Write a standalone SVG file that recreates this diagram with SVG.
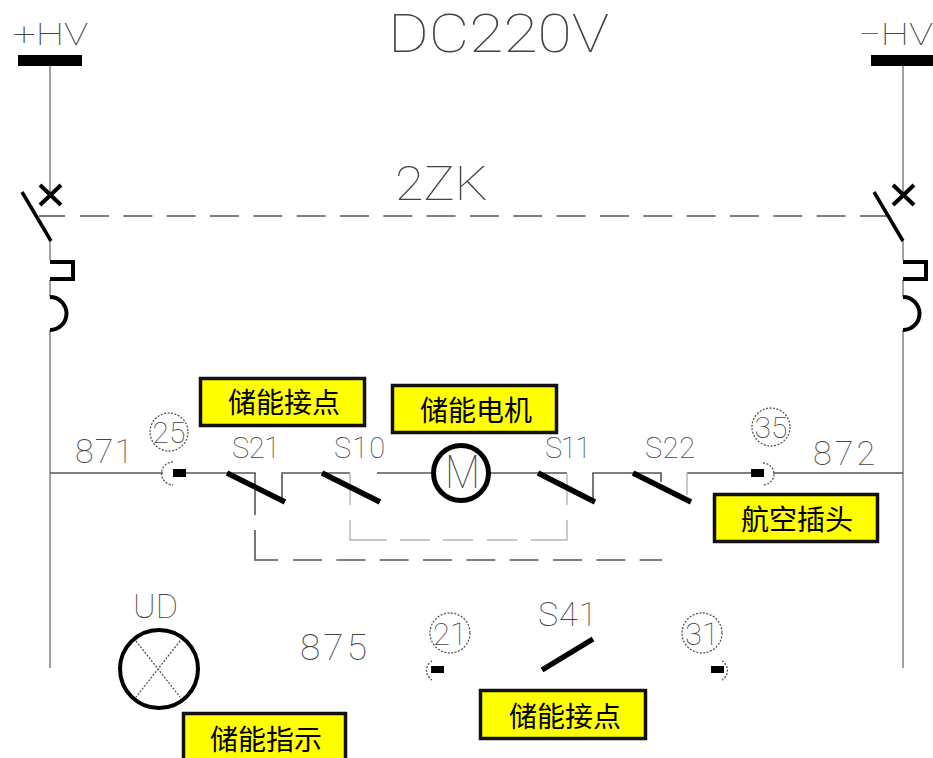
<svg xmlns="http://www.w3.org/2000/svg" width="933" height="758" viewBox="0 0 933 758">
<style>
.w{fill:none;stroke:#555;stroke-width:1.6}
.v{fill:none;stroke:#8a8a8a;stroke-width:1.6}
.l{fill:none;stroke:#b4b4b4;stroke-width:1.4}
.h{fill:none;stroke:#000;stroke-width:5.5}
.b{fill:none;stroke:#000;stroke-width:3.5}
.g{fill:none;stroke:#000;stroke-width:4}
.d{fill:none;stroke:#555;stroke-width:1.3;stroke-dasharray:2 1.500}
.t{font-family:Roboto,"Liberation Sans",sans-serif;font-weight:100;fill:#444}
.c{font-family:"Noto Sans CJK SC",sans-serif;font-size:28px;fill:#000;text-anchor:middle}
.y{fill:#ff0;stroke:#111;stroke-width:3.500}
</style>
<rect width="933" height="758" fill="#fff"/>
<g id="connectors">
<path class="v" d="M50 66V195M50 241V260M50 280V297M50 330V668M903 66V195M903 241V260M903 280V297M903 330V668"/>
<path class="w" d="M39 216H65"/>
<path class="w" stroke-dasharray="29 14.330" d="M80 216H887"/>
<path class="w" d="M50 473H163M773 473H903M186 473H227H255V515M282 502V473H322H350M377 473H432M490 473H538H567M593 502V473H633H661V482M687 473H751"/>
<path class="w" d="M255 530V560H278"/>
<path class="w" stroke-dasharray="29 14.330" d="M293 560H662"/>
<path class="l" d="M350 473V505M350 520V540H387M400 540H430M443 540H473M487 540H517M531 540H567V520M567 505V473M687 473V495"/>
</g>
<g id="busbar-plus"><rect x="18" y="55" width="64" height="11" fill="#000"/><text class="t" x="13" y="45" font-size="32" textLength="75" lengthAdjust="spacingAndGlyphs">+HV</text></g>
<g id="busbar-minus"><rect x="871" y="55" width="62" height="11" fill="#000"/><text class="t" x="858" y="45" font-size="32" textLength="75" lengthAdjust="spacingAndGlyphs">−HV</text></g>
<g id="title"><text class="t" x="388" y="52" font-size="53" textLength="221" lengthAdjust="spacingAndGlyphs">DC220V</text></g>
<g id="label-2zk"><text class="t" x="395" y="200" font-size="49" textLength="93" lengthAdjust="spacingAndGlyphs">2ZK</text></g>
<g id="breaker-left"><path class="g" d="M40 185L61 205M61 185L40 205"/><path class="b" d="M22 192L51 241"/><path class="g" d="M50 262H73V279H50"/><path class="g" d="M50 297A16.500 16.500 0 0 1 50 330"/></g>
<g id="breaker-right"><path class="g" d="M893 185L914 205M914 185L893 205"/><path class="b" d="M874 192L903 241"/><path class="g" d="M903 262H926V279H903"/><path class="g" d="M903 297A16.500 16.500 0 0 1 903 330"/></g>
<g id="term-25"><circle class="d" cx="169" cy="432" r="19"/><text class="t" x="169" y="443" font-size="30" text-anchor="middle">25</text><path class="d" d="M173 462A11 11 0 0 0 173 485"/><rect x="173" y="469" width="13" height="8" fill="#000"/></g>
<g id="term-35"><circle class="d" cx="771" cy="427" r="19"/><text class="t" x="771" y="438" font-size="30" text-anchor="middle">35</text><path class="d" d="M763 463A11 11 0 0 1 763 485"/><rect x="751" y="469" width="13" height="8" fill="#000"/></g>
<g id="label-871"><text class="t" x="75" y="463" font-size="34" textLength="58" lengthAdjust="spacing">871</text></g>
<g id="label-872"><text class="t" x="813" y="465" font-size="34" textLength="62" lengthAdjust="spacing">872</text></g>
<g id="sw-s21"><text class="t" x="232" y="458" font-size="29" textLength="48" lengthAdjust="spacing">S21</text><path class="h" d="M227 473L285 502"/></g>
<g id="sw-s10"><text class="t" x="334" y="458" font-size="29" textLength="51" lengthAdjust="spacing">S10</text><path class="h" d="M322 473L380 502"/></g>
<g id="sw-s11"><text class="t" x="545" y="458" font-size="29" textLength="46" lengthAdjust="spacing">S11</text><path class="h" d="M538 473L595 502"/></g>
<g id="sw-s22"><text class="t" x="645" y="458" font-size="29" textLength="50" lengthAdjust="spacing">S22</text><path class="h" d="M633 473L691 502"/></g>
<g id="motor"><circle cx="461" cy="473" r="27.500" fill="#fff" stroke="#000" stroke-width="5"/><text class="t" x="445" y="488" font-size="46" textLength="35" lengthAdjust="spacingAndGlyphs">M</text></g>
<g id="lamp-ud"><text class="t" x="133" y="618" font-size="34" textLength="45" lengthAdjust="spacing">UD</text><circle cx="159" cy="669" r="39" fill="#fff" stroke="#000" stroke-width="4"/><path class="d" d="M136 641L180 697M180 641L136 697"/></g>
<g id="label-875"><text class="t" x="300" y="660" font-size="37" textLength="67" lengthAdjust="spacing">875</text></g>
<g id="term-21"><circle class="d" cx="450" cy="633" r="20"/><text class="t" x="450" y="645" font-size="31" text-anchor="middle">21</text><path class="d" d="M432 661A11 11 0 0 0 432 680"/><rect x="431" y="666" width="13" height="7" fill="#000"/></g>
<g id="term-31"><circle class="d" cx="702" cy="633" r="20"/><text class="t" x="702" y="645" font-size="31" text-anchor="middle">31</text><path class="d" d="M722 661A11 11 0 0 1 722 680"/><rect x="711" y="666" width="13" height="7" fill="#000"/></g>
<g id="sw-s41"><text class="t" x="538" y="626" font-size="34" textLength="59" lengthAdjust="spacing">S41</text><path class="h" d="M542 670L593 639"/></g>
<g id="box-a"><rect class="y" x="200.500" y="378.500" width="164" height="47"/><text class="c" x="284" y="413">储能接点</text></g>
<g id="box-b"><rect class="y" x="392.500" y="385.500" width="164" height="47"/><text class="c" x="476" y="421">储能电机</text></g>
<g id="box-c"><rect class="y" x="714.500" y="494.500" width="163" height="47"/><text class="c" x="797" y="530">航空插头</text></g>
<g id="box-d"><rect class="y" x="183.500" y="713.500" width="162" height="50"/><text class="c" x="266" y="750">储能指示</text></g>
<g id="box-e"><rect class="y" x="480.500" y="690.500" width="165" height="48"/><text class="c" x="565" y="727">储能接点</text></g>
</svg>
